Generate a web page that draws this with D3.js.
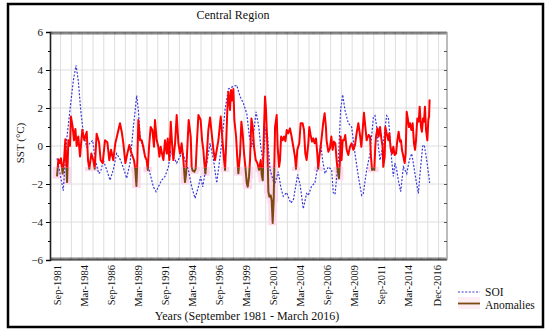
<!DOCTYPE html>
<html>
<head>
<meta charset="utf-8">
<script src="https://cdn.jsdelivr.net/npm/d3@7"></script>
<style>
  body { margin: 0; background: #fff; }
  svg { display: block; }
  text { font-family: "Liberation Serif", "Times New Roman", serif; fill: #111; }
</style>
</head>
<body>
<svg id="chart" width="550" height="333"></svg>
<script>
// tick labels on the time axis
const xTickLabels = ['Sep-1981', 'Mar-1984', 'Sep-1986', 'Mar-1989', 'Sep-1991', 'Mar-1994', 'Sep-1996',
  'Mar-1999', 'Sep-2001', 'Mar-2004', 'Sep-2006', 'Mar-2009', 'Sep-2011', 'Mar-2014', 'Dec-2016'];
const yTicks = [-6, -4, -2, 0, 2, 4, 6];

// SOI, [decimal year, value]
const soi = [
  [1981.67,-0.65],[1981.95,-1.45],[1982.25,-2.35],[1982.56,0.3],[1982.87,1.9],[1983.18,3.45],[1983.43,4.25],
  [1983.64,3.45],[1983.86,1.9],[1984.11,0.65],[1984.42,-0.05],[1984.72,0.15],[1984.97,0.3],[1985.22,-0.75],
  [1985.53,-1.45],[1985.71,-1.35],[1985.96,-0.75],[1986.27,-1.25],[1986.58,-1.8],[1986.88,-1.25],[1987.19,-0.4],
  [1987.56,-0.75],[1987.87,-1.25],[1988.12,-1.7],[1988.43,-0.9],[1988.74,1.0],[1989.05,2.65],[1989.2,1.9],
  [1989.36,0.5],[1989.66,-0.2],[1989.97,-0.75],[1990.28,-1.45],[1990.59,-2.15],[1990.84,-2.4],[1991.05,-2.15],
  [1991.36,-1.8],[1991.67,-1.6],[1991.98,-1.1],[1992.2,-0.3],[1992.44,-0.55],[1992.75,-0.9],[1993.06,-0.55],
  [1993.31,-0.3],[1993.52,-0.75],[1993.83,-1.25],[1994.14,-2.15],[1994.45,-2.75],[1994.76,-2.15],[1994.97,-1.6],
  [1995.16,-2.15],[1995.37,-1.45],[1995.59,-0.75],[1995.84,0.15],[1996.15,-0.7],[1996.46,-1.95],[1996.92,0.15],
  [1997.23,1.9],[1997.54,3.0],[1997.85,3.1],[1998.31,3.2],[1998.62,2.6],[1998.93,2.25],[1999.24,1.7],
  [1999.48,0.5],[1999.7,-0.05],[1999.94,1.0],[2000.1,1.8],[2000.35,1.0],[2000.55,-0.1],[2000.75,-0.85],
  [2001.0,1.0],[2001.15,0.6],[2001.4,-1.25],[2001.8,-2.05],[2002.16,-1.35],[2002.4,-2.2],[2002.62,-2.65],
  [2002.93,-2.45],[2003.31,-3.0],[2003.55,-2.85],[2003.95,-1.5],[2004.17,-2.0],[2004.47,-3.3],[2004.78,-2.5],
  [2004.94,-2.6],[2005.25,-2.1],[2005.55,-1.95],[2005.86,-0.9],[2006.08,0.15],[2006.26,-0.75],[2006.48,-1.45],
  [2006.79,-1.1],[2007.1,-1.25],[2007.25,-2.45],[2007.41,-2.55],[2007.72,-0.75],[2007.93,1.9],[2008.12,2.7],
  [2008.33,1.9],[2008.64,1.2],[2008.95,1.0],[2009.26,-0.4],[2009.57,-1.6],[2009.88,-2.6],[2010.03,-2.5],
  [2010.34,-1.25],[2010.65,-0.4],[2010.96,1.5],[2011.11,1.6],[2011.27,1.0],[2011.42,0.0],[2011.58,-0.75],
  [2011.88,0.15],[2012.19,1.6],[2012.35,1.5],[2012.5,0.5],[2012.66,-0.75],[2012.81,-1.6],[2012.96,-0.9],
  [2013.12,-1.25],[2013.27,-1.8],[2013.49,-2.4],[2013.74,-1.1],[2014.05,-1.45],[2014.29,-0.75],[2014.51,-0.4],
  [2014.66,-0.9],[2014.91,-1.8],[2015.13,-2.5],[2015.28,-1.45],[2015.53,0.0],[2015.68,0.05],[2015.9,-0.75],
  [2016.11,-1.6],[2016.17,-1.95]
];

// SST anomalies, [decimal year, value]
const anomalies = [
  [1981.67,-1.6],[1981.8,-0.7],[1981.92,-0.9],[1982.04,-0.65],[1982.19,-1.45],[1982.32,-0.75],[1982.44,0.35],
  [1982.6,-1.9],[1982.72,0.3],[1982.87,0.0],[1982.96,1.55],[1983.12,1.0],[1983.24,0.3],[1983.37,0.9],
  [1983.49,0.0],[1983.64,0.5],[1983.8,-0.55],[1984.01,0.85],[1984.2,0.3],[1984.42,0.75],[1984.54,-0.75],
  [1984.66,-1.2],[1984.85,-0.4],[1985.03,-0.75],[1985.16,-1.2],[1985.34,0.65],[1985.56,0.2],[1985.71,-0.75],
  [1985.9,-0.9],[1986.11,0.3],[1986.33,0.2],[1986.51,-0.75],[1986.67,-0.2],[1986.88,-0.75],[1987.07,0.15],
  [1987.32,0.75],[1987.5,1.2],[1987.66,0.75],[1987.81,0.15],[1988.0,-0.9],[1988.18,-0.4],[1988.37,0.05],
  [1988.43,-0.12],[1988.58,-0.4],[1988.8,-0.75],[1988.92,-1.26],[1989.02,-2.1],[1989.11,-0.75],[1989.2,1.37],
  [1989.36,0.3],[1989.51,0.3],[1989.66,-0.04],[1989.82,-0.56],[1989.97,-0.74],[1990.07,-1.26],[1990.19,-0.04],
  [1990.34,1.0],[1990.5,0.84],[1990.65,-0.04],[1990.74,1.37],[1990.9,0.3],[1991.05,-0.04],[1991.15,-0.56],
  [1991.27,-0.04],[1991.39,-0.4],[1991.52,-0.74],[1991.67,0.3],[1991.83,-0.4],[1991.92,0.4],[1992.07,-0.74],
  [1992.2,1.28],[1992.32,0.14],[1992.44,-0.74],[1992.6,0.14],[1992.75,1.63],[1992.91,0.14],[1993.06,-0.4],
  [1993.21,0.14],[1993.37,-0.74],[1993.52,-1.9],[1993.62,-1.45],[1993.74,-0.04],[1993.86,1.37],[1994.05,0.5],
  [1994.14,-1.1],[1994.23,-1.3],[1994.39,-1.35],[1994.51,-1.2],[1994.6,-0.04],[1994.76,1.63],[1994.97,1.37],
  [1995.1,0.3],[1995.22,-0.2],[1995.31,-0.9],[1995.41,-1.45],[1995.53,-0.56],[1995.68,0.84],[1995.84,1.5],
  [1996.15,-0.2],[1996.3,-0.74],[1996.46,-0.2],[1996.61,0.3],[1996.83,1.55],[1997.01,0.14],[1997.14,-0.74],
  [1997.23,-1.26],[1997.32,-0.04],[1997.44,1.9],[1997.54,2.86],[1997.69,1.9],[1997.78,2.95],[1997.88,2.4],
  [1998.0,3.0],[1998.09,1.37],[1998.25,0.5],[1998.37,-0.74],[1998.46,-1.44],[1998.62,-0.4],[1998.74,1.28],
  [1998.86,0.67],[1998.99,-0.4],[1999.11,-1.1],[1999.24,-1.96],[1999.33,-2.14],[1999.45,-1.6],[1999.54,-0.74],
  [1999.67,1.45],[1999.79,1.0],[1999.91,-0.04],[2000.07,-0.74],[2000.22,-0.9],[2000.38,-1.26],[2000.53,-0.74],
  [2000.62,-1.5],[2000.72,-1.8],[2000.84,1.0],[2000.93,2.6],[2001.02,1.9],[2001.15,-0.04],[2001.24,-2.4],
  [2001.33,-2.67],[2001.46,-2.6],[2001.55,-2.9],[2001.64,-4.05],[2001.73,-2.85],[2001.86,1.0],[2002.01,1.63],
  [2002.1,-0.04],[2002.23,-1.1],[2002.32,-0.74],[2002.42,0.5],[2002.57,0.3],[2002.69,0.5],[2002.82,0.25],
  [2002.94,0.84],[2003.09,0.67],[2003.24,0.93],[2003.39,0.5],[2003.55,-0.04],[2003.7,-0.56],[2003.8,-1.2],
  [2003.92,-0.2],[2004.1,0.14],[2004.23,1.2],[2004.41,1.2],[2004.54,0.84],[2004.66,-0.4],[2004.78,-0.74],
  [2004.94,0.14],[2005.03,1.0],[2005.15,0.58],[2005.28,0.23],[2005.4,0.4],[2005.52,0.14],[2005.65,0.4],
  [2005.77,-0.4],[2005.86,-1.2],[2005.96,-0.56],[2006.08,-0.04],[2006.2,0.58],[2006.33,1.28],[2006.45,1.72],
  [2006.57,1.0],[2006.63,0.3],[2006.79,-0.3],[2006.94,-0.12],[2007.07,0.5],[2007.19,-0.2],[2007.31,0.23],
  [2007.44,0.14],[2007.56,-0.74],[2007.65,-1.26],[2007.78,-1.7],[2007.87,-0.74],[2007.93,0.5],[2008.02,-0.74],
  [2008.12,0.3],[2008.24,0.3],[2008.36,0.58],[2008.49,-0.2],[2008.64,-0.47],[2008.8,-0.04],[2008.95,0.14],
  [2009.1,-0.2],[2009.26,0.05],[2009.41,0.67],[2009.57,1.2],[2009.72,0.58],[2009.85,-0.04],[2009.97,0.84],
  [2010.09,1.75],[2010.22,1.0],[2010.34,0.3],[2010.52,0.58],[2010.65,0.5],[2010.74,-0.56],[2010.84,-1.26],
  [2010.96,-1.17],[2011.05,-1.26],[2011.14,-0.04],[2011.21,0.5],[2011.33,0.93],[2011.45,0.5],[2011.58,1.0],
  [2011.7,0.4],[2011.82,-0.04],[2011.88,-1.1],[2012.01,-0.56],[2012.07,1.0],[2012.19,0.67],[2012.35,0.3],
  [2012.44,0.67],[2012.56,-0.12],[2012.69,-0.4],[2012.81,-0.04],[2012.93,-0.47],[2013.06,-0.4],[2013.18,0.3],
  [2013.3,0.75],[2013.43,0.23],[2013.52,0.3],[2013.61,-0.2],[2013.74,-0.56],[2013.86,-0.9],[2013.95,-0.4],
  [2014.05,1.8],[2014.17,1.37],[2014.26,1.0],[2014.35,1.2],[2014.48,0.84],[2014.6,1.2],[2014.72,0.14],
  [2014.82,-0.2],[2014.91,0.3],[2015.03,1.45],[2015.16,1.28],[2015.25,2.07],[2015.37,1.0],[2015.46,0.75],
  [2015.56,1.45],[2015.65,1.28],[2015.74,2.07],[2015.84,0.84],[2015.96,0.3],[2016.05,1.37],[2016.12,1.55],
  [2016.17,2.45]
];

const coldLimit = -1.15; // below this the anomaly line turns brown

const svg = d3.select('#chart');
const pL = 50, pR = 447, pT = 32, pB = 260;

const x = d3.scaleLinear().domain([1981.02, 2017.78]).range([pL, pR]);
const y = d3.scaleLinear().domain([-6, 6]).range([pB, pT]);

const parseLabel = d3.timeParse('%b-%Y');
const decYear = s => { const d = parseLabel(s); return d.getFullYear() + d.getMonth() / 12; };

// outer frame
svg.append('rect').attr('x', 8).attr('y', 4).attr('width', 535).attr('height', 323)
  .attr('fill', 'none').attr('stroke', '#000').attr('stroke-width', 2.5);

// grid
const grid = svg.append('g').attr('stroke', '#dedede').attr('stroke-width', 1);
grid.selectAll('line.v').data(d3.range(1982, 2018)).enter().append('line')
  .attr('x1', d => x(d)).attr('x2', d => x(d)).attr('y1', pT).attr('y2', pB);
grid.selectAll('line.h').data([-4, -2, 0, 2, 4]).enter().append('line')
  .attr('x1', pL).attr('x2', pR).attr('y1', d => y(d)).attr('y2', d => y(d));

// pink boxes behind the cold spells
svg.append('g').selectAll('rect').data(anomalies.filter(d => d[1] < coldLimit)).enter().append('rect')
  .attr('x', d => x(d[0] - 0.4)).attr('width', d => x(d[0] + 0.4) - x(d[0] - 0.4))
  .attr('y', y(-1.1)).attr('height', d => y(d[1] - 0.12) - y(-1.1))
  .attr('fill', '#fdd9ee');

// clip paths splitting the anomaly line
const defs = svg.append('defs');
defs.append('clipPath').attr('id', 'warm').append('rect')
  .attr('x', pL).attr('y', pT).attr('width', pR - pL).attr('height', y(coldLimit) - pT);
defs.append('clipPath').attr('id', 'cold').append('rect')
  .attr('x', pL).attr('y', y(coldLimit)).attr('width', pR - pL).attr('height', pB - y(coldLimit));

const line = d3.line().x(d => x(d[0])).y(d => y(d[1]));

svg.append('path').datum(soi).attr('d', line)
  .attr('fill', 'none').attr('stroke', '#3a3ad8').attr('stroke-width', 1.2).attr('stroke-dasharray', '2,1.6');

svg.append('path').datum(anomalies).attr('d', line).attr('clip-path', 'url(#warm)')
  .attr('fill', 'none').attr('stroke', '#ff0000').attr('stroke-width', 2).attr('stroke-linejoin', 'round');
svg.append('path').datum(anomalies).attr('d', line).attr('clip-path', 'url(#cold)')
  .attr('fill', 'none').attr('stroke', '#7b4a12').attr('stroke-width', 2).attr('stroke-linejoin', 'round');

// monthly ticks top and bottom
const months = d3.range(0, 441).map(i => 1981 + i / 12).filter(t => t > 1981.02 && t < 2017.78);
const mt = svg.append('g').attr('stroke', '#333').attr('stroke-width', 0.6);
mt.selectAll('line.b').data(months).enter().append('line')
  .attr('x1', d => x(d)).attr('x2', d => x(d)).attr('y1', pB).attr('y2', pB - 2.5);
mt.selectAll('line.t').data(months).enter().append('line')
  .attr('x1', d => x(d)).attr('x2', d => x(d)).attr('y1', pT).attr('y2', pT + 2.5);

// spines
svg.append('line').attr('x1', pL).attr('x2', pR).attr('y1', pT).attr('y2', pT).attr('stroke', '#666').attr('stroke-width', 0.8);
svg.append('line').attr('x1', pL).attr('x2', pR).attr('y1', pB).attr('y2', pB).attr('stroke', '#222').attr('stroke-width', 1.2);
svg.append('line').attr('x1', pR).attr('x2', pR).attr('y1', pT).attr('y2', pB).attr('stroke', '#555').attr('stroke-width', 0.8);

// left axis
const yAxis = svg.append('g').attr('transform', `translate(${pL},0)`)
  .call(d3.axisLeft(y).tickValues(yTicks).tickSize(4).tickPadding(3).tickFormat(d3.format('d')));
yAxis.select('.domain').attr('stroke', '#222').attr('stroke-width', 1.6);
yAxis.selectAll('text').attr('font-size', 11).attr('font-family', '"Liberation Serif", serif').attr('fill', '#111');
svg.append('g').attr('transform', `translate(${pL},0)`)
  .call(d3.axisLeft(y).tickValues([-5, -3, -1, 1, 3, 5]).tickSize(2).tickFormat(''))
  .select('.domain').remove();

// right axis, ticks inward
svg.append('g').attr('transform', `translate(${pR},0)`)
  .call(d3.axisLeft(y).tickValues(d3.range(-5, 6)).tickSize(3).tickFormat(''))
  .call(g => g.select('.domain').remove())
  .selectAll('line').attr('stroke', '#555');

// bottom labels, rotated
svg.append('g').selectAll('text').data(xTickLabels).enter().append('text')
  .attr('transform', d => `translate(${x(decYear(d))},265) rotate(-90)`)
  .attr('text-anchor', 'end').attr('dy', '0.35em').attr('font-size', 10.5)
  .text(d => d);

// titles
svg.append('text').attr('x', 233).attr('y', 18.5).attr('text-anchor', 'middle').attr('font-size', 12).text('Central Region');
svg.append('text').attr('x', 247).attr('y', 320).attr('text-anchor', 'middle').attr('font-size', 12)
  .text('Years (September 1981 - March 2016)');
svg.append('text').attr('transform', 'translate(24,143) rotate(-90)').attr('text-anchor', 'middle')
  .attr('font-size', 11).attr('font-family', '"Liberation Sans", Arial, sans-serif').text('SST (°C)');

// legend
const lg = svg.append('g');
lg.append('rect').attr('x', 458).attr('y', 297).attr('width', 22).attr('height', 12).attr('fill', '#fdeef6');
lg.append('line').attr('x1', 458).attr('x2', 480).attr('y1', 292).attr('y2', 292)
  .attr('stroke', '#3a3ad8').attr('stroke-width', 1.2).attr('stroke-dasharray', '2,1.6');
lg.append('line').attr('x1', 458).attr('x2', 480).attr('y1', 303.5).attr('y2', 303.5)
  .attr('stroke', '#7b4a12').attr('stroke-width', 1.8);
lg.append('text').attr('x', 485).attr('y', 295.5).attr('font-size', 11.5).text('SOI');
lg.append('text').attr('x', 485).attr('y', 308.5).attr('font-size', 11.5).text('Anomalies');
</script>
</body>
</html>
